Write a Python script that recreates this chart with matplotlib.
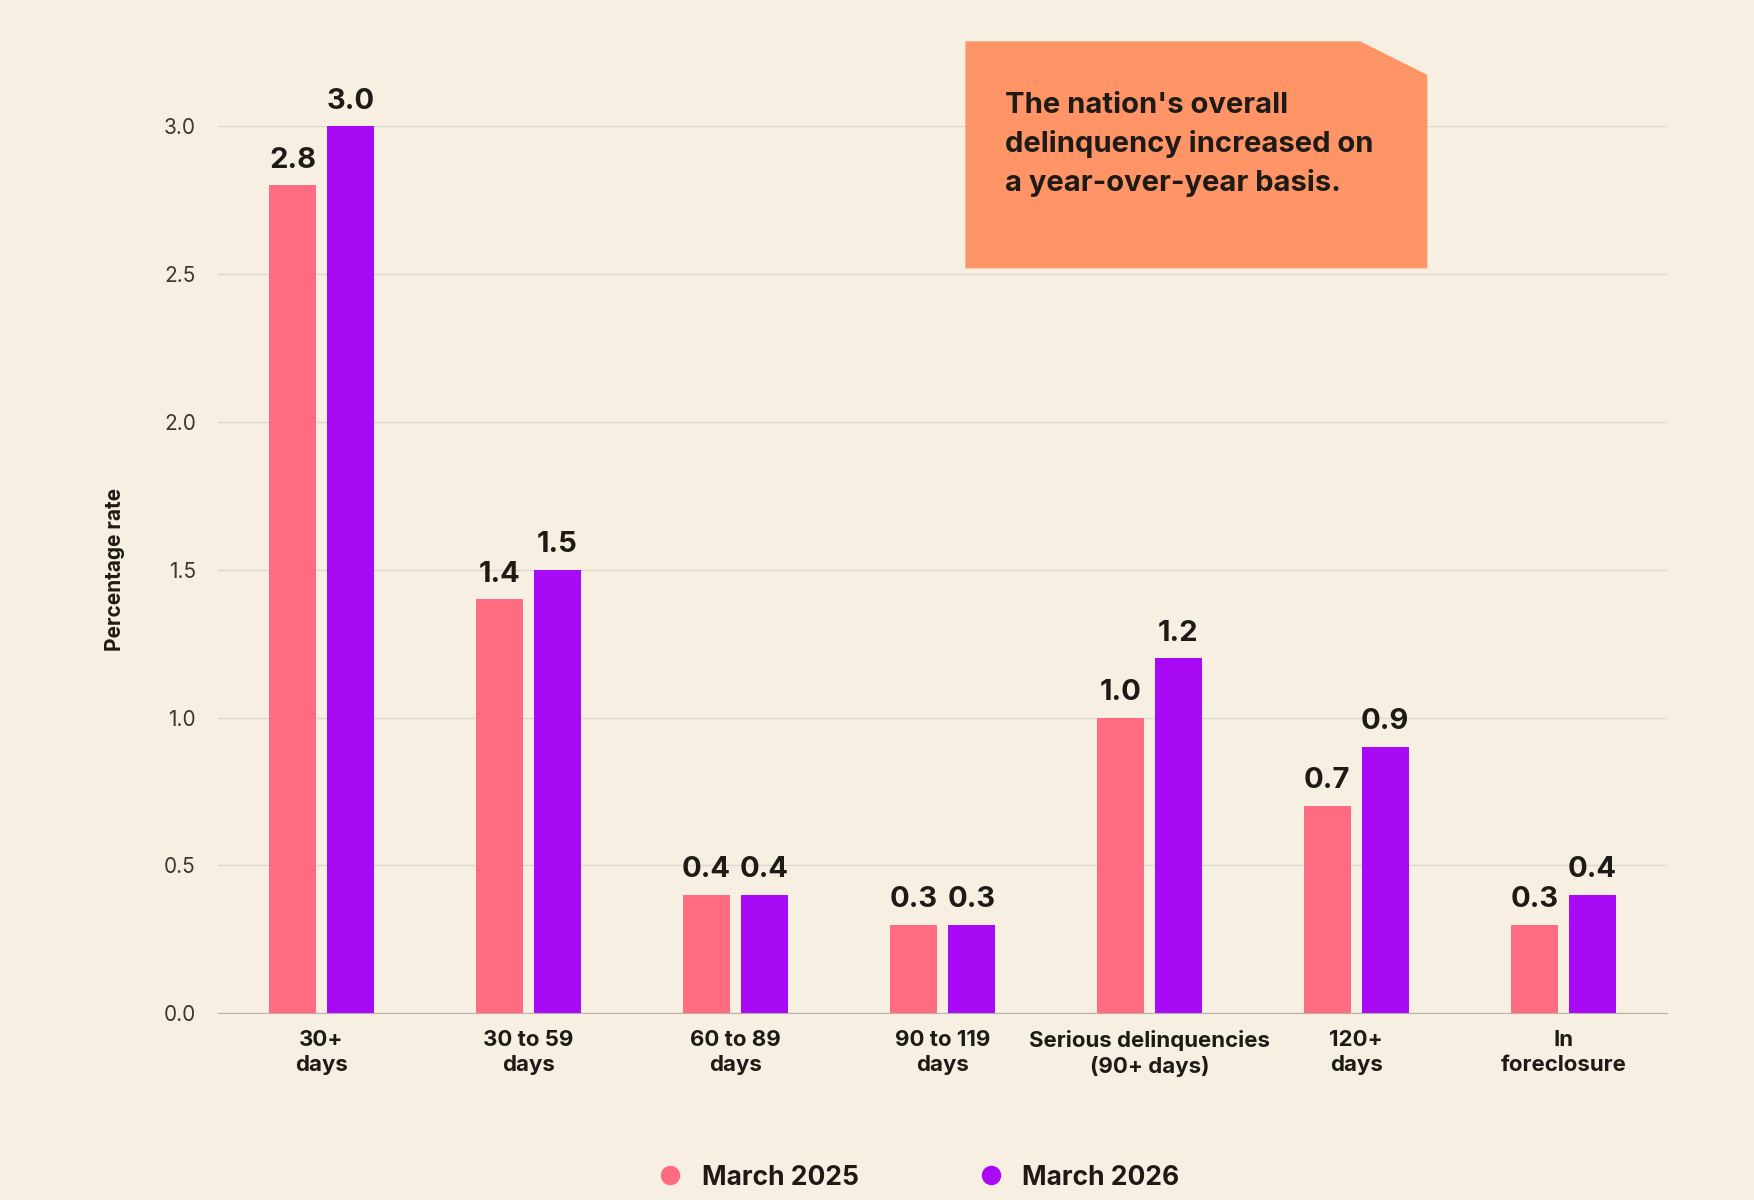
import matplotlib
matplotlib.use("Agg")
import matplotlib.pyplot as plt
from matplotlib.patches import Polygon
from matplotlib.lines import Line2D
import numpy as np

plt.rcParams['font.family'] = ['Inter', 'DejaVu Sans']

categories = ["30+\ndays", "30 to 59\ndays", "60 to 89\ndays", "90 to 119\ndays",
              "Serious delinquencies\n(90+ days)", "120+\ndays", "In\nforeclosure"]
march_2025 = [2.8, 1.4, 0.4, 0.3, 1.0, 0.7, 0.3]
march_2026 = [3.0, 1.5, 0.4, 0.3, 1.2, 0.9, 0.4]
yticks = [0.0, 0.5, 1.0, 1.5, 2.0, 2.5, 3.0]

bg = "#F8EFE3"
pink = "#FF6B81"
purple = "#A90AF5"
dark = "#1E1B16"

W, H = 1568, 1073
fig = plt.figure(figsize=(17.54, 12), dpi=100, facecolor=bg)
ax = fig.add_axes([195 / W, 1 - 906 / H, (1490 - 195) / W, (906 - 113) / H], facecolor=bg)

x = np.arange(len(categories))
w = 0.225
off = 0.14
b1 = ax.bar(x - off, march_2025, w, color=pink, zorder=3)
b2 = ax.bar(x + off, march_2026, w, color=purple, zorder=3)
for bars, vals in ((b1, march_2025), (b2, march_2026)):
    for r, v in zip(bars, vals):
        ax.text(r.get_x() + r.get_width() / 2, v + 0.04, f"{v:.1f}", ha="center", va="bottom",
                fontsize=21, fontweight="bold", color=dark, clip_on=False)

ax.set_xlim(-0.5, len(categories) - 0.5)
ax.set_ylim(0, 3.0)
ax.set_yticks(yticks)
ax.set_yticklabels([f"{t:.1f}" for t in yticks], fontsize=15, color="#3a3630")
ax.set_xticks(x)
ax.set_xticklabels(categories, fontsize=16, fontweight="bold", color=dark, linespacing=1.3)
ax.tick_params(axis="both", length=0, pad=12)
ax.tick_params(axis="y", pad=16)
ax.grid(axis="y", color="#DDD8CF", linewidth=1, zorder=0)
for s in ["top", "right", "left"]:
    ax.spines[s].set_visible(False)
ax.spines["bottom"].set_color("#B8B2A8")
ax.set_ylabel("Percentage rate", fontsize=15, fontweight="bold", color=dark, labelpad=28)

# callout box with folded corner
pts = [(863, 37), (1216, 37), (1276, 67), (1276, 240), (863, 240)]
poly = Polygon([(px / W, 1 - py / H) for px, py in pts], closed=True,
               transform=fig.transFigure, facecolor="#FF9466", edgecolor="none")
fig.patches.append(poly)
fig.text(898 / W, 1 - 82 / H, "The nation's overall\ndelinquency increased on\na year-over-year basis.",
         ha="left", va="top", fontsize=21, fontweight="bold", color=dark, linespacing=1.5)

handles = [Line2D([], [], marker="o", linestyle="", markersize=13, color=pink),
           Line2D([], [], marker="o", linestyle="", markersize=13, color=purple)]
fig.legend(handles, ["March 2025", "March 2026"], loc="center", bbox_to_anchor=(815 / W, 1 - 1053 / H),
           ncol=2, frameon=False, prop={"size": 19, "weight": "bold"}, columnspacing=4,
           handletextpad=0.2, labelcolor=dark)

fig.savefig("out.png", dpi=100, facecolor=bg)
